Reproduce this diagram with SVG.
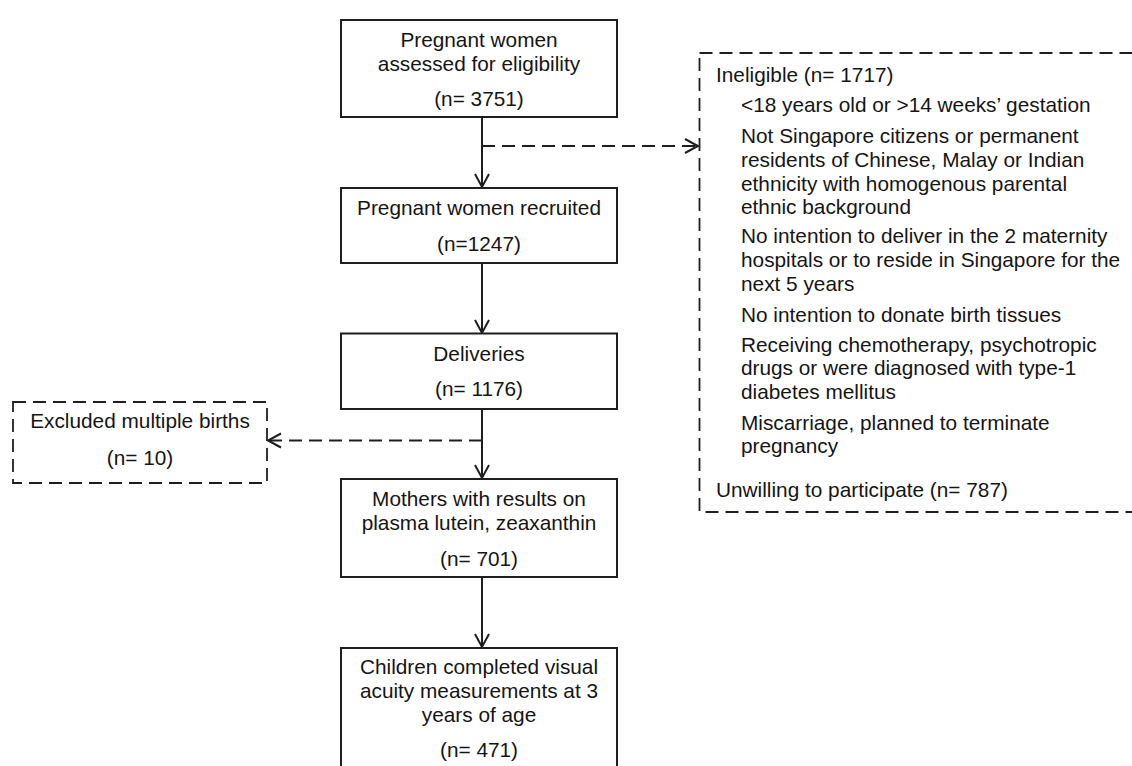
<svg xmlns="http://www.w3.org/2000/svg" width="1132" height="766" viewBox="0 0 1132 766">
<style>
text{font-family:"Liberation Sans",Arial,sans-serif;font-size:20.8px;fill:#151515}
.c{text-anchor:middle}
.box{fill:#fff;stroke:#1e1e1e;stroke-width:2}
.dbox{fill:#fff;stroke:#1e1e1e;stroke-width:1.8;stroke-dasharray:13 7}
.ln{fill:none;stroke:#1e1e1e;stroke-width:2}
.dl{fill:none;stroke:#1e1e1e;stroke-width:1.8;stroke-dasharray:13 7}
</style>
<defs>
<marker id="ah" markerUnits="userSpaceOnUse" markerWidth="16" markerHeight="18" refX="13" refY="8" orient="auto" overflow="visible">
<path d="M0,1 L13,8 L0,15" fill="none" stroke="#1e1e1e" stroke-width="2" stroke-dasharray="none"/>
</marker>
</defs>
<rect width="1132" height="766" fill="#fff"/>

<g id="connectors">
<line class="ln" x1="482" y1="117" x2="482" y2="187" marker-end="url(#ah)"/>
<line class="dl" x1="482" y1="146" x2="698" y2="146" marker-end="url(#ah)"/>
<line class="ln" x1="482" y1="263" x2="482" y2="333" marker-end="url(#ah)"/>
<line class="ln" x1="482" y1="409" x2="482" y2="478" marker-end="url(#ah)"/>
<line class="dl" x1="482" y1="440.5" x2="268" y2="440.5" marker-end="url(#ah)"/>
<line class="ln" x1="482" y1="577" x2="482" y2="647" marker-end="url(#ah)"/>
</g>

<g id="n-assessed">
<rect class="box" x="341" y="20" width="276" height="97"/>
<text class="c" x="479" y="47">Pregnant women</text>
<text class="c" x="479" y="71">assessed for eligibility</text>
<text class="c" x="479" y="105.5">(n= 3751)</text>
</g>

<g id="n-recruited">
<rect class="box" x="341" y="188" width="276" height="75"/>
<text class="c" x="479" y="215">Pregnant women recruited</text>
<text class="c" x="479" y="250.5">(n=1247)</text>
</g>

<g id="n-deliveries">
<rect class="box" x="341" y="333.5" width="276" height="75.5"/>
<text class="c" x="479" y="361">Deliveries</text>
<text class="c" x="479" y="396">(n= 1176)</text>
</g>

<g id="n-mothers">
<rect class="box" x="341" y="479" width="276" height="98"/>
<text class="c" x="479" y="506">Mothers with results on</text>
<text class="c" x="479" y="530">plasma lutein, zeaxanthin</text>
<text class="c" x="479" y="566">(n= 701)</text>
</g>

<g id="n-children">
<rect class="box" x="341" y="648" width="276" height="130"/>
<text class="c" x="479" y="674">Children completed visual</text>
<text class="c" x="479" y="698">acuity measurements at 3</text>
<text class="c" x="479" y="721.5">years of age</text>
<text class="c" x="479" y="756.5">(n= 471)</text>
</g>

<g id="n-excluded">
<rect class="dbox" x="13" y="402" width="254" height="81"/>
<text class="c" x="140" y="428">Excluded multiple births</text>
<text class="c" x="140" y="465">(n= 10)</text>
</g>

<g id="n-ineligible">
<rect class="dbox" x="699.5" y="53" width="460" height="459"/>
<text x="716" y="81.5">Ineligible (n= 1717)</text>
<text x="741" y="111.5">&lt;18 years old or &gt;14 weeks’ gestation</text>
<text x="741" y="143">Not Singapore citizens or permanent</text>
<text x="741" y="166.5">residents of Chinese, Malay or Indian</text>
<text x="741" y="190.5">ethnicity with homogenous parental</text>
<text x="741" y="213.5">ethnic background</text>
<text x="741" y="243">No intention to deliver in the 2 maternity</text>
<text x="741" y="267">hospitals or to reside in Singapore for the</text>
<text x="741" y="290.5">next 5 years</text>
<text x="741" y="321.5">No intention to donate birth tissues</text>
<text x="741" y="351.5">Receiving chemotherapy, psychotropic</text>
<text x="741" y="375">drugs or were diagnosed with type-1</text>
<text x="741" y="398.5">diabetes mellitus</text>
<text x="741" y="429.5">Miscarriage, planned to terminate</text>
<text x="741" y="452.5">pregnancy</text>
<text x="716" y="496.5">Unwilling to participate (n= 787)</text>
</g>
</svg>
